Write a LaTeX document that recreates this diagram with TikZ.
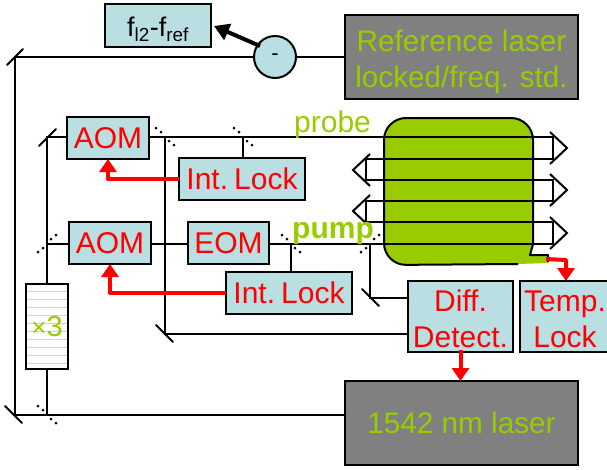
\documentclass[tikz,border=0pt]{standalone}
\usepackage{fontspec}
\setmainfont{Liberation Sans}
\usetikzlibrary{arrows.meta,calc}
\definecolor{boxblue}{HTML}{B9DFE3}
\definecolor{lime}{HTML}{99CC00}
\definecolor{laser}{HTML}{808080}
\tikzset{
  x=1pt,y=-1pt,
  blk/.style={line width=2pt,black,line cap=round},
  block/.style={draw=black,line width=2pt,fill=boxblue,inner sep=0pt,outer sep=0pt,minimum width=#1,text=red,font=\fontsize{30}{33}\selectfont,align=center},
  block/.default=82pt,
  laserbox/.style={draw=black,line width=2pt,fill=laser,inner sep=0pt,outer sep=0pt,minimum width=233pt,minimum height=84pt,text=lime,font=\fontsize{29.7}{36}\selectfont,align=center},
  redarrow/.style={red,line width=4pt,line join=round,-{Triangle[length=13pt,width=17pt]}},
  chev/.style={line width=2pt,black,line join=miter},
  beamlabel/.style={text=lime,inner sep=0pt,font=\fontsize{30}{32}\selectfont}
}
% beam-splitter dots: #1 centre, #2 = 1 for "\" direction, -1 for "/" direction
\newcommand{\bsdots}[2]{%
  \foreach \oo/\pp in {-9/-9,-4/-5,4/4,9/8}
    \fill[black] ($(#1)+(#2*\oo,\pp)$) circle (1.5pt);}
\begin{document}
\begin{tikzpicture}
\useasboundingbox (0,0) rectangle (607,469);
% green cell
\fill[lime,rounded corners=22pt] (384,118) -- (533,118) -- (533,240) [sharp corners] -- (531,255) -- (548,255) -- (548,263) -- (518,264) [rounded corners=22pt] -- (384,265) -- cycle;
\draw[line width=2pt,black,rounded corners=22pt] (518,264) -- (384,265) -- (384,118) -- (533,118) -- (533,244);
\draw[line width=2pt,black,line join=round] (533,244) -- (530,255) -- (548,255) -- (548,262);
% nodes
\node[block=106pt,minimum height=43pt,text=black,font=\fontsize{27}{29}\selectfont] (diff) at (158,25.5) {\rule{0pt}{27pt}f\textsubscript{l2}-f\textsubscript{ref}};
\node[circle,draw=black,line width=2pt,fill=boxblue,minimum size=42pt,inner sep=0pt,outer sep=0pt,font=\fontsize{22}{24}\selectfont] (minus) at (275,57) {-};
\node[laserbox] (ref) at (461.5,57) {\rule{0pt}{31pt}Reference laser\\locked/freq. std.};
\node[laserbox] (laser) at (461.5,423) {1542 nm laser};
\node[block,minimum height=42pt] (aoma) at (108,138) {AOM};
\node[block,minimum height=42pt] (aomb) at (110,243) {AOM};
\node[block=81pt,minimum height=42pt] (eom) at (228.5,243) {EOM};
\node[block=126pt,minimum height=42pt] (locka) at (242,179) {Int.\hspace{6pt}Lock};
\node[block=126pt,minimum height=42pt] (lockb) at (289,292.5) {Int.\hspace{6pt}Lock};
\node[block=105pt,minimum height=71pt,font=\fontsize{30}{36}\selectfont] (detect) at (460.5,316.5) {\rule{0pt}{27pt}Diff.\\Detect.};
\node[block=92pt,minimum height=71pt,font=\fontsize{30}{36}\selectfont,anchor=west] (temp) at (520,316.5) {\rule{0pt}{27pt}\hspace{-2pt}Temp.\\\hspace{-2pt}Lock};
% x3 box
\node[draw=black,line width=2pt,fill=white,minimum width=42pt,minimum height=85pt,inner sep=0pt,outer sep=0pt] (mult) at (47,326.5) {};
\foreach \yy in {291,299,307,315,323,331,339,347,355,363}
  \draw[boxblue,line width=.8pt] (27,\yy) -- (67,\yy);
\node[text=lime,inner sep=0pt] at (47,327) {\fontsize{26}{28}\selectfont ×\fontsize{29}{30}\selectfont 3};
% junctions
\coordinate (mtl) at (15,57);
\coordinate (mbl) at (15,415);
\coordinate (bs0) at (47,415);
\coordinate (bs1) at (47,244);
\coordinate (m2) at (47,137);
\coordinate (bs2) at (165,137);
\coordinate (bs3) at (243,137);
\coordinate (bs4) at (291,244);
\coordinate (bs5) at (370,244);
\coordinate (m3) at (165,334);
\coordinate (m4) at (370,298);
% beams
\draw[blk] (ref.west |- minus) -- (minus);
\draw[blk] (minus) -- (mtl) -- (mbl) -- (laser.west |- mbl);
\draw[blk] (mult.south) -- (bs0);
\draw[blk] (mult.north) -- (m2) -- (aoma.west |- m2);
\draw[blk] (bs1) -- (aomb.west |- bs1);
\draw[blk] (aoma.east |- m2) -- (553,137) -- (553,159) -- (366,159) -- (366,180) -- (553,180) -- (553,201) -- (366,201) -- (366,222) -- (553,222) -- (553,244) -- (bs5) -- (bs4) -- (eom.east |- bs4);
\draw[blk] (eom.west |- bs1) -- (aomb.east |- bs1);
\draw[blk] (bs2) -- (m3) -- (detect.west |- m3);
\draw[blk] (bs3) -- (bs3 |- locka.north);
\draw[blk] (bs4) -- (bs4 |- lockb.north);
\draw[blk] (bs5) -- (m4) -- (detect.west |- m4);
% mirrors
\draw[blk] ($(mtl)+(-8,8)$) -- ($(mtl)+(8,-8)$);
\draw[blk] ($(mbl)+(-10,-9)$) -- ($(mbl)+(7,8)$);
\draw[blk] ($(m2)+(-8,9)$) -- ($(m2)+(9,-8)$);
\draw[blk] ($(m3)+(-9,-9)$) -- ($(m3)+(8,8)$);
\draw[blk] ($(m4)+(-8,-9)$) -- ($(m4)+(9,8)$);
% beam splitters
\bsdots{bs0}{1}
\bsdots{bs1}{-1}
\bsdots{bs2}{1}
\bsdots{bs3}{1}
\bsdots{bs4}{1}
\bsdots{bs5}{-1}
% chevrons
\foreach \yy in {148,190,233}
  \draw[chev] (550,\yy-16) -- (567,\yy) -- (550,\yy+16);
\foreach \yy in {170,211}
  \draw[chev] (370,\yy-16) -- (353,\yy) -- (370,\yy+16);
% labels
\node[beamlabel,anchor=base west] at (294,132) {probe};
\node[beamlabel,anchor=base west,font=\fontsize{30}{32}\selectfont\bfseries] at (292,238) {pump};
% control arrows
\draw[line width=4pt,black,-{Triangle[length=15pt,width=17pt]}] (minus) ++(-15,-11) -- (214,26);
\draw[redarrow] (locka.west) -- (aoma.south |- locka.west) -- (aoma.south);
\draw[redarrow] (lockb.west) -- (aomb.south |- lockb.west) -- (aomb.south);
\draw[redarrow] (detect.south) ++(0,-2) -- (laser.north -| detect.south);
\coordinate (cellout) at (546,259);
\draw[redarrow] (cellout) -- (566,260) -- (566,281);
\end{tikzpicture}
\end{document}
